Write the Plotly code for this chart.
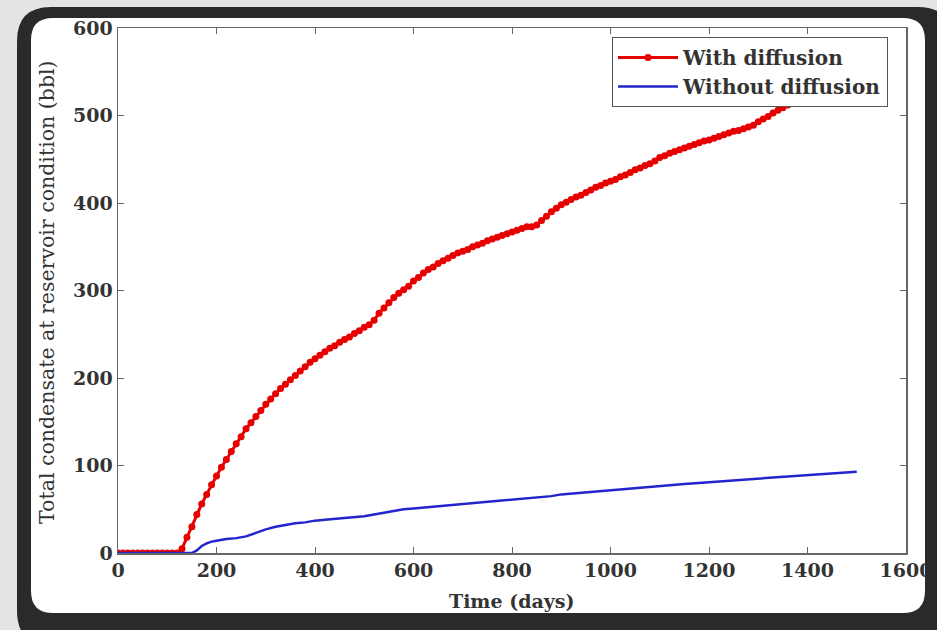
import plotly.graph_objects as go

# ---- data ----
red_t = list(range(0, 1510, 10))
red_v = [0]*13 + [
    5, 18, 30, 44, 56, 67, 78, 88, 98, 107,            # 130-220
    116, 125, 133, 142, 149, 156, 163, 170, 176, 182,  # 230-320
    188, 193, 198, 203, 208, 213, 218, 222, 226, 230,  # 330-420
    234, 237, 241, 244, 247, 251, 254, 258, 261, 266,  # 430-520
    274, 280, 286, 292, 297, 301, 305, 311, 315, 320,  # 530-620
    324, 327, 331, 334, 337, 340, 343, 345, 347, 350,  # 630-720
    352, 354, 357, 359, 361, 363, 365, 367, 369, 371,  # 730-820
    373, 373, 375, 380, 385, 390, 394, 398, 401, 404,  # 830-920
    407, 409, 412, 415, 418, 420, 423, 425, 427, 430,  # 930-1020
    432, 435, 438, 440, 443, 445, 448, 452, 454, 457,  # 1030-1120
    459, 461, 463, 465, 467, 469, 471, 472, 474, 476,  # 1130-1220
    478, 480, 482, 483, 485, 487, 489, 493, 496, 499,  # 1230-1320
    503, 506, 509, 512, 515, 518, 521, 524, 527, 530,  # 1330-1420
    533, 536, 539, 542, 545, 548, 551, 554,            # 1430-1500
]

blue_t = [0, 50, 100, 150, 160, 170, 180, 190, 200, 220, 240, 260, 280, 300, 320, 340, 360,
          380, 400, 420, 440, 460, 480, 500, 520, 540, 560, 580, 600, 620, 640, 660,
          680, 700, 720, 740, 760, 780, 800, 820, 840, 860, 880, 900, 920, 940, 960,
          980, 1000, 1020, 1040, 1060, 1080, 1100, 1150, 1200, 1250, 1300, 1350,
          1400, 1450, 1500]
blue_v = [0, 0, 0, 0, 3, 8, 11, 13, 14, 16, 17, 19, 23, 27, 30, 32, 34,
          35, 37, 38, 39, 40, 41, 42, 44, 46, 48, 50, 51, 52, 53, 54,
          55, 56, 57, 58, 59, 60, 61, 62, 63, 64, 65, 67, 68, 69, 70,
          71, 72, 73, 74, 75, 76, 77, 79, 81, 83, 85, 87,
          89, 91, 93]

x_ticks = [0, 200, 400, 600, 800, 1000, 1200, 1400, 1600]
y_ticks = [0, 100, 200, 300, 400, 500, 600]

W, H = 937, 630
L, R, T, B = 118, 906, 28, 553


def px(x):
    return (x - L) / (R - L)


def py(y):
    return (B - y) / (B - T)


def rrect(x0, y0, x1, y1, r, ccw=False):
    pts = []
    if not ccw:
        pts.append(f"M{px(x0 + r)},{py(y0)}")
        pts.append(f"L{px(x1 - r)},{py(y0)}")
        pts.append(f"Q{px(x1)},{py(y0)} {px(x1)},{py(y0 + r)}")
        pts.append(f"L{px(x1)},{py(y1 - r)}")
        pts.append(f"Q{px(x1)},{py(y1)} {px(x1 - r)},{py(y1)}")
        pts.append(f"L{px(x0 + r)},{py(y1)}")
        pts.append(f"Q{px(x0)},{py(y1)} {px(x0)},{py(y1 - r)}")
        pts.append(f"L{px(x0)},{py(y0 + r)}")
        pts.append(f"Q{px(x0)},{py(y0)} {px(x0 + r)},{py(y0)}Z")
    else:
        pts.append(f"M{px(x0 + r)},{py(y0)}")
        pts.append(f"Q{px(x0)},{py(y0)} {px(x0)},{py(y0 + r)}")
        pts.append(f"L{px(x0)},{py(y1 - r)}")
        pts.append(f"Q{px(x0)},{py(y1)} {px(x0 + r)},{py(y1)}")
        pts.append(f"L{px(x1 - r)},{py(y1)}")
        pts.append(f"Q{px(x1)},{py(y1)} {px(x1)},{py(y1 - r)}")
        pts.append(f"L{px(x1)},{py(y0 + r)}")
        pts.append(f"Q{px(x1)},{py(y0)} {px(x1 - r)},{py(y0)}Z")
    return " ".join(pts)


fig = go.Figure()
fig.add_trace(go.Scatter(
    x=red_t, y=red_v, name="With diffusion", mode="lines+markers",
    line=dict(color="#e60000", width=3),
    marker=dict(color="#e60000", size=7),
))
fig.add_trace(go.Scatter(
    x=blue_t, y=blue_v, name="Without diffusion", mode="lines",
    line=dict(color="#2424cc", width=2.5),
))

font_fam = "DejaVu Serif, serif"

frame_path = rrect(17, 7, 952, 645, 34) + " " + rrect(31, 18, 925, 613, 22, ccw=True)

fig.update_layout(
    width=W, height=H, autosize=False,
    margin=dict(l=L, r=W - R, t=T, b=H - B, autoexpand=False),
    paper_bgcolor="#e4e4e4",
    plot_bgcolor="rgba(0,0,0,0)",
    showlegend=True,
    legend=dict(
        x=px(612), y=py(37), xanchor="left", yanchor="top",
        bgcolor="white", bordercolor="#555", borderwidth=1,
        font=dict(family=font_fam, size=20, color="#333", weight="bold"),
        itemwidth=60, tracegroupgap=0,
    ),
    xaxis=dict(
        range=[0, 1600], tickvals=x_ticks, ticktext=[str(v) for v in x_ticks],
        showgrid=False, zeroline=False, showline=True, mirror="ticks",
        linecolor="#666", linewidth=1.5, ticks="inside", ticklen=6, tickcolor="#666",
        automargin=False,
        tickfont=dict(family=font_fam, size=19, color="#333", weight="bold"),
    ),
    yaxis=dict(
        range=[0, 600], tickvals=y_ticks, ticktext=[str(v) for v in y_ticks],
        showgrid=False, zeroline=False, showline=True, mirror="ticks",
        linecolor="#666", linewidth=1.5, ticks="inside", ticklen=6, tickcolor="#666",
        automargin=False,
        tickfont=dict(family=font_fam, size=19, color="#333", weight="bold"),
    ),
    shapes=[
        dict(type="path", xref="paper", yref="paper",
             path=rrect(31, 18, 925, 613, 22), fillcolor="white",
             line=dict(width=0), layer="below"),
        dict(type="path", xref="paper", yref="paper", path=frame_path,
             fillcolor="#2a2a2a", line=dict(width=0), layer="above"),
    ],
    annotations=[
        dict(text="Time (days)", xref="paper", yref="paper", x=px(511), y=py(601),
             showarrow=False, xanchor="center", yanchor="middle",
             font=dict(family=font_fam, size=19, color="#333", weight="bold")),
        dict(text="Total condensate at reservoir condition (bbl)", xref="paper", yref="paper",
             x=px(47), y=py(292), textangle=-90, showarrow=False,
             xanchor="center", yanchor="middle",
             font=dict(family=font_fam, size=20.5, color="#333")),
    ],
)

fig.write_html(
    "out.html",
    config={"responsive": False, "displayModeBar": False, "staticPlot": True},
    post_script=(
        "document.documentElement.style.overflow='hidden';"
        "document.body.style.margin='0';document.body.style.overflow='hidden';"
    ),
)
